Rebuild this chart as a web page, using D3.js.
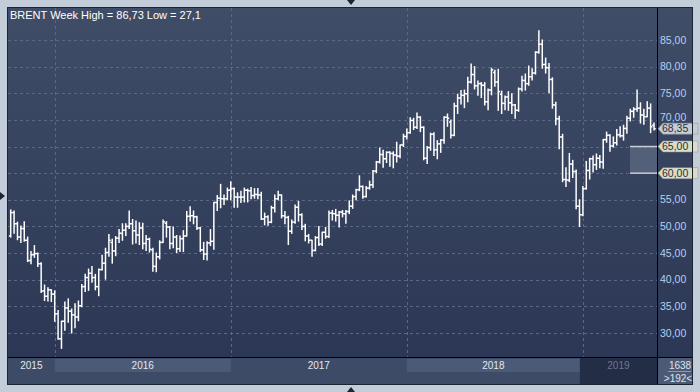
<!DOCTYPE html>
<html>
<head>
<meta charset="utf-8">
<script src="https://cdn.jsdelivr.net/npm/d3@7"></script>
<style>
  html, body { margin: 0; padding: 0; background: #c3cdda; }
  svg { display: block; font-family: "Liberation Sans", Arial, sans-serif; }
</style>
</head>
<body>
<svg id="chart" width="700" height="392"></svg>
<script>
// weekly Brent bars, Oct 2015 .. end of May 2019
const symbol = 'BRENT';
const firstMonday = new Date(2015, 9, 5);
const lastMonday = new Date(2019, 4, 27);

const opens = [
  48.2, 52.6, 50.5, 48.0, 49.6, 47.4, 43.6, 44.7, 44.9, 43.0, 37.9, 36.9, 38.1,
  37.3, 33.6, 28.9, 32.2, 34.7, 34.1, 33.4, 33.0, 35.1, 38.7, 40.4, 41.2, 40.4, 38.7, 41.9, 43.1, 45.1, 47.0,
  45.4, 47.8, 48.7, 49.3, 50.0, 50.5, 49.2, 48.4, 49.7, 46.8, 47.6, 45.6, 42.5, 44.3, 47.0, 50.6, 49.9, 46.8,
  48.0, 45.8, 47.7, 48.2, 51.9, 52.0, 51.8, 49.7, 45.6, 44.8, 46.9, 47.2, 54.5, 55.3, 55.2, 55.2,
  56.8, 57.1, 55.5, 55.5, 55.5, 56.8, 56.7, 55.8, 56.0, 55.9, 51.4, 51.8, 50.8, 53.5, 55.2, 55.9, 52.0, 51.7,
  49.1, 50.8, 53.6, 52.2, 50.0, 48.2, 47.4, 45.5, 47.9, 46.7, 48.9, 48.1, 52.5, 52.4, 52.1, 52.7, 52.4, 52.8,
  53.8, 55.6, 56.9, 57.5, 55.6, 57.2, 57.8, 60.4, 62.1, 63.5, 62.7, 63.9, 63.7, 63.4, 63.2, 65.3,
  66.9, 67.6, 69.9, 68.6, 70.5, 68.6, 62.8, 64.8, 67.3, 64.4, 65.5, 66.2, 70.5, 69.6, 67.1, 72.6, 74.1, 74.6,
  74.9, 77.1, 78.5, 76.4, 76.8, 76.5, 73.4, 75.6, 78.9, 77.1, 74.8, 73.1, 74.3, 73.2, 72.8, 71.8, 75.8, 77.4,
  76.8, 78.1, 78.8, 82.7, 84.2, 80.4, 79.8, 77.6, 72.8, 70.2, 66.8, 58.8, 58.7, 61.7, 60.3, 53.8, 52.2,
  57.1, 60.5, 62.7, 61.6, 62.8, 62.1, 66.3, 67.1, 65.1, 65.7, 67.2, 67.0, 68.4, 70.3, 71.6, 72.0, 72.2, 70.9,
  70.6, 72.2, 69.0
];
const highs = [
  53.1, 52.9, 50.8, 50.1, 50.9, 48.0, 45.3, 46.4, 45.0, 43.2, 39.0, 38.5, 38.1,
  37.9, 34.2, 32.2, 35.8, 36.4, 34.5, 35.5, 36.0, 39.1, 41.0, 42.0, 42.5, 41.0, 42.0, 44.6, 45.9, 48.5, 47.6,
  48.1, 49.4, 50.5, 50.5, 52.9, 51.3, 51.0, 50.7, 50.6, 48.3, 47.8, 45.9, 45.0, 47.3, 51.2, 50.9, 50.0, 49.9,
  48.3, 48.2, 49.2, 52.8, 53.7, 52.9, 51.9, 49.8, 47.0, 47.1, 49.4, 54.5, 55.8, 57.9, 55.9, 57.2,
  58.4, 57.2, 56.3, 56.6, 57.2, 57.0, 57.3, 57.1, 57.1, 56.4, 52.5, 52.0, 53.8, 55.9, 56.6, 55.9, 52.8, 51.9,
  51.2, 54.0, 54.7, 52.4, 50.4, 48.5, 47.4, 48.1, 50.0, 48.9, 49.8, 52.9, 53.0, 53.2, 52.8, 53.0, 53.0,
  54.8, 55.9, 57.0, 59.5, 57.6, 57.5, 58.5, 60.5, 62.2, 64.7, 64.3, 64.0, 64.0, 64.0, 65.8, 65.3, 67.3,
  68.3, 70.4, 70.3, 71.3, 70.6, 68.7, 65.0, 67.5, 67.6, 66.1, 66.3, 70.6, 71.1, 70.0, 73.1, 74.8, 75.5,
  75.6, 78.0, 80.5, 80.0, 77.3, 77.0, 77.0, 75.8, 79.7, 79.3, 79.5, 75.4, 74.5, 75.3, 74.9, 72.9, 76.0,
  78.2, 78.6, 80.1, 79.6, 82.8, 86.73, 85.0, 81.6, 80.6, 77.9, 73.3, 70.7, 67.3, 61.0, 63.7, 62.4, 60.6,
  55.0, 57.5,
  62.2, 62.8, 63.2, 63.6, 63.3, 66.3, 67.7, 67.2, 66.8, 68.2, 68.7, 69.0, 70.7, 72.0, 72.3, 75.6, 73.2,
  72.0, 73.4, 73.0, 69.4
];
const lows = [
  48.0, 48.7, 47.5, 47.0, 47.2, 43.4, 43.0, 44.2, 42.5, 37.6, 36.1, 36.0, 35.9,
  32.2, 28.8, 27.1, 30.5, 32.0, 30.0, 31.0, 32.3, 34.9, 37.8, 38.0, 39.5, 38.1, 37.0, 41.8, 40.1, 44.4, 43.1,
  44.5, 47.0, 47.4, 48.3, 49.6, 46.7, 46.9, 46.6, 45.8, 45.5, 45.2, 41.6, 41.5, 43.9, 47.0, 48.0, 45.8, 46.0,
  45.1, 45.3, 45.3, 48.2, 51.0, 50.5, 49.4, 45.3, 43.8, 43.7, 46.4, 45.7, 53.0, 53.5, 54.1, 55.0,
  55.0, 53.6, 53.6, 54.5, 54.6, 54.6, 55.2, 55.3, 55.2, 51.3, 50.3, 50.2, 50.7, 52.7, 55.0, 51.6, 50.5, 46.6,
  48.7, 50.6, 51.0, 49.4, 47.3, 46.9, 44.4, 45.4, 46.4, 46.4, 47.8, 47.9, 51.2, 51.0, 49.9, 51.8, 50.6,
  52.4, 53.4, 55.0, 56.7, 55.3, 55.5, 57.0, 57.3, 60.1, 61.9, 61.1, 62.0, 61.3, 61.0, 62.1, 62.9, 65.0,
  66.4, 67.5, 68.2, 68.4, 67.8, 62.5, 61.8, 64.3, 63.3, 62.7, 63.9, 65.6, 68.8, 66.6, 67.0, 71.2, 73.0,
  72.3, 73.4, 76.9, 75.8, 74.6, 74.2, 72.8, 71.9, 74.7, 76.3, 71.8, 71.2, 71.9, 71.8, 71.2, 70.3, 71.6,
  75.4, 75.6, 76.5, 77.5, 78.6, 82.5, 79.7, 78.8, 75.1, 72.2, 69.1, 64.6, 58.4, 57.5, 58.4, 59.2, 53.3,
  50.0, 52.0,
  57.0, 58.9, 60.2, 60.7, 61.0, 60.9, 65.8, 64.1, 64.9, 65.3, 66.8, 66.2, 67.5, 69.8, 70.5, 71.6, 69.4,
  69.2, 70.6, 67.6, 68.1
];
const closes = [
  52.6, 50.5, 48.0, 49.6, 47.4, 43.6, 44.7, 44.9, 43.0, 37.9, 36.9, 38.1, 37.3,
  33.6, 28.9, 32.2, 34.7, 34.1, 33.4, 33.0, 35.1, 38.7, 40.4, 41.2, 40.4, 38.7, 41.9, 43.1, 45.1, 47.4, 45.4,
  47.8, 48.7, 49.3, 50.0, 50.5, 49.2, 48.4, 49.7, 46.8, 47.6, 45.7, 42.5, 44.3, 47.0, 50.9, 49.9, 46.8, 48.0,
  45.8, 47.7, 48.2, 51.9, 52.0, 51.8, 49.7, 45.6, 44.8, 46.9, 47.2, 54.5, 55.3, 55.2, 55.2, 56.8,
  57.1, 55.5, 55.5, 55.5, 56.8, 56.7, 55.8, 56.0, 55.9, 51.4, 51.8, 50.8, 53.5, 55.2, 55.9, 52.0, 51.7, 49.1,
  50.8, 53.6, 52.2, 50.0, 48.2, 47.4, 45.5, 47.9, 46.7, 48.9, 48.1, 52.5, 52.4, 52.1, 52.7, 52.4, 52.8,
  53.8, 55.6, 56.9, 57.5, 55.6, 57.2, 57.8, 60.4, 62.1, 63.5, 62.7, 63.9, 63.7, 63.4, 63.2, 65.3, 66.9,
  67.6, 69.9, 68.6, 70.5, 68.6, 62.8, 64.8, 67.3, 64.4, 65.5, 66.2, 70.5, 70.3, 67.1, 72.6, 74.1, 74.6,
  74.9, 77.1, 78.5, 76.4, 76.8, 76.5, 73.4, 75.6, 79.4, 77.1, 75.3, 73.1, 74.3, 73.2, 72.8, 71.8, 75.8,
  77.4, 76.8, 78.1, 78.8, 82.7, 84.2, 80.4, 79.8, 77.6, 72.8, 70.2, 66.8, 58.8, 58.7, 61.7, 60.3, 53.8,
  52.2, 57.1,
  60.5, 62.7, 61.6, 62.8, 62.1, 66.3, 67.1, 65.1, 65.7, 67.2, 67.0, 68.4, 70.3, 71.6, 72.0, 72.2, 70.9,
  70.6, 72.2, 68.7, 68.35
];
const priceTicks = [30, 35, 40, 45, 50, 55, 60, 65, 70, 75, 80, 85];
const years = [2015, 2016, 2017, 2018, 2019];
const zoneLevels = [60, 65];
const barCount = 1638;
const visibleBars = 192;

// one bar per trading week; a week belongs to the year of its Thursday
const weeks = d3.timeMonday.range(firstMonday, d3.timeDay.offset(lastMonday, 1));
const bars = weeks.map((d, i) => ({
  date: d,
  year: d3.timeDay.offset(d, 3).getFullYear(),
  o: opens[i], h: highs[i], l: lows[i], c: closes[i]
}));

const W = 700, H = 392;
const plot = { left: 8, right: 657, top: 8, bottom: 357 };
const strip = { top: 357, bottom: 384 };
const axisRight = 692;

const svg = d3.select('#chart');
const fmt = v => String(v).replace('.', ',');
const fmt2 = v => d3.format('.2f')(v).replace('.', ',');

const x = d3.scaleLinear().domain([0, bars.length - 1]).range([10.7, 654]);
const y = d3.scaleLinear().domain([25.49, 91.0]).range([plot.bottom, plot.top]);

// backgrounds
const defs = svg.append('defs');
const grad = defs.append('linearGradient').attr('id', 'bg').attr('x1', 0).attr('y1', 0).attr('x2', 0).attr('y2', 1);
grad.append('stop').attr('offset', '0%').attr('stop-color', '#404d67');
grad.append('stop').attr('offset', '100%').attr('stop-color', '#2b3754');

svg.append('rect').attr('width', W).attr('height', H).attr('fill', '#c3cdda');
svg.append('rect')
  .attr('x', plot.left).attr('y', plot.top)
  .attr('width', axisRight - plot.left).attr('height', plot.bottom - plot.top)
  .attr('fill', 'url(#bg)');
svg.append('rect')
  .attr('x', plot.left).attr('y', strip.top)
  .attr('width', axisRight - plot.left).attr('height', strip.bottom - strip.top)
  .attr('fill', '#3e4b67');

// year positions
const firstIdx = years.map(yr => bars.findIndex(b => b.year === yr));
const yearSpans = years.map((yr, k) => ({
  year: yr,
  x0: k === 0 ? plot.left : x(firstIdx[k]),
  x1: k === years.length - 1 ? plot.right : x(firstIdx[k + 1])
}));
const lastYear = yearSpans[yearSpans.length - 1];
lastYear.x0 -= 3;
yearSpans[yearSpans.length - 2].x1 = lastYear.x0;

// grid
const grid = svg.append('g').attr('stroke', '#5a6886').attr('stroke-dasharray', '3,3').attr('stroke-width', 1);
grid.selectAll('line.h').data(priceTicks).enter().append('line')
  .attr('x1', plot.left).attr('x2', plot.right)
  .attr('y1', d => Math.round(y(d)) + 0.5).attr('y2', d => Math.round(y(d)) + 0.5);
grid.selectAll('line.v').data(firstIdx.slice(1)).enter().append('line')
  .attr('x1', d => Math.round(x(d)) + 0.5).attr('x2', d => Math.round(x(d)) + 0.5)
  .attr('y1', plot.top).attr('y2', plot.bottom);

// 60-65 zone
svg.append('rect')
  .attr('x', 630).attr('y', y(zoneLevels[1]))
  .attr('width', plot.right - 630).attr('height', y(zoneLevels[0]) - y(zoneLevels[1]))
  .attr('fill', '#6c7890').attr('fill-opacity', 0.55);
svg.selectAll('line.zone').data(zoneLevels).enter().append('line')
  .attr('x1', 630).attr('x2', plot.right)
  .attr('y1', d => y(d)).attr('y2', d => y(d))
  .attr('stroke', '#c9ccd4').attr('stroke-width', 1.5);

// OHLC bars
const barG = svg.append('g').attr('stroke', '#ffffff').attr('stroke-width', 1.5).attr('fill', 'none');
const bar = barG.selectAll('g').data(bars).enter().append('g');
bar.append('line')
  .attr('x1', (d, i) => x(i)).attr('x2', (d, i) => x(i))
  .attr('y1', d => y(d.h) - 0.5).attr('y2', d => y(d.l) + 0.5);
bar.append('line')
  .attr('x1', (d, i) => x(i) - 1.8).attr('x2', (d, i) => x(i))
  .attr('y1', d => y(d.o)).attr('y2', d => y(d.o));
bar.append('line')
  .attr('x1', (d, i) => x(i)).attr('x2', (d, i) => x(i) + 1.8)
  .attr('y1', d => y(d.c)).attr('y2', d => y(d.c));

// price axis (levels with a marker show only the marker)
svg.append('line').attr('x1', plot.right + 0.5).attr('x2', plot.right + 0.5)
  .attr('y1', plot.top).attr('y2', strip.bottom).attr('stroke', '#000');
svg.append('line').attr('x1', plot.left).attr('x2', axisRight)
  .attr('y1', plot.bottom + 0.5).attr('y2', plot.bottom + 0.5).attr('stroke', '#000');
svg.append('g').selectAll('text').data(priceTicks.filter(t => !zoneLevels.includes(t))).enter().append('text')
  .attr('x', 660).attr('y', d => y(d)).attr('dy', d => d === 70 ? '0.1em' : '0.35em')
  .attr('font-size', 10.5).attr('fill', '#b4cff0')
  .text(d => fmt2(d));

// price markers (last close + zone edges)
const last = bars[bars.length - 1];
const markers = [
  { v: last.c, fill: '#c6cbd4' },
  { v: zoneLevels[1], fill: '#dcdcc5' },
  { v: zoneLevels[0], fill: '#dcdcc5' }
];
const mk = svg.append('g').selectAll('g').data(markers).enter().append('g')
  .attr('transform', d => `translate(0,${y(d.v)})`);
mk.append('path')
  .attr('d', 'M658,0 L663,-5.5 L698,-5.5 L698,5.5 L663,5.5 Z')
  .attr('fill', d => d.fill).attr('stroke', '#8a909c').attr('stroke-width', 0.5);
mk.append('text')
  .attr('x', 662).attr('dy', '0.36em')
  .attr('font-size', 10.5).attr('fill', '#28303e')
  .text(d => fmt2(d.v));

// year strip
const ys = svg.append('g');
ys.selectAll('rect').data(yearSpans).enter().append('rect')
  .attr('x', d => d.x0).attr('width', d => d.x1 - d.x0)
  .attr('y', d => d.year === lastYear.year ? 358 : 359)
  .attr('height', d => d.year === lastYear.year ? 26 : 13)
  .attr('fill', d => d.year === lastYear.year ? '#232d45' : (d.year % 2 === 0 ? '#4b5a77' : 'none'));
ys.selectAll('text').data(yearSpans).enter().append('text')
  .attr('x', d => (d.x0 + d.x1) / 2).attr('y', 365.5).attr('dy', '0.35em')
  .attr('text-anchor', 'middle').attr('font-size', 10)
  .attr('fill', d => d.year === lastYear.year ? '#6b7891' : '#e2e8f0')
  .text(d => d.year);

// bar count box
svg.append('rect').attr('x', plot.right + 1).attr('y', 358).attr('width', axisRight - plot.right - 1).attr('height', 26)
  .attr('fill', '#4d5a75');
svg.append('text').attr('x', 680).attr('y', 365).attr('dy', '0.35em').attr('text-anchor', 'middle')
  .attr('font-size', 10).attr('fill', '#dde4ee').text(barCount);
svg.append('line').attr('x1', 668).attr('x2', 691).attr('y1', 371.5).attr('y2', 371.5)
  .attr('stroke', '#8e9bb0');
svg.append('text').attr('x', 678).attr('y', 378).attr('dy', '0.35em').attr('text-anchor', 'middle')
  .attr('font-size', 10).attr('fill', '#dde4ee').text(`>${visibleBars}<`);

// frame
svg.append('rect').attr('x', plot.left - 0.5).attr('y', plot.top - 0.5)
  .attr('width', axisRight - plot.left + 1).attr('height', strip.bottom - plot.top + 1)
  .attr('fill', 'none').attr('stroke', '#1c2434');

// splitter arrows
svg.append('path').attr('d', 'M347,0 L355,0 L351,5 Z').attr('fill', '#1c2434');
svg.append('path').attr('d', 'M347,392 L355,392 L351,387 Z').attr('fill', '#1c2434');
svg.append('path').attr('d', 'M0,192 L0,200 L5,196 Z').attr('fill', '#1c2434');

// title
const hi = d3.max(bars, d => d.h), lo = d3.min(bars, d => d.l);
svg.append('text').attr('x', 10).attr('y', 15).attr('dy', '0.35em')
  .attr('font-size', 11).attr('fill', '#ffffff')
  .text(`${symbol} Week High = ${fmt(hi)} Low = ${fmt(lo)}`);
</script>
</body>
</html>
